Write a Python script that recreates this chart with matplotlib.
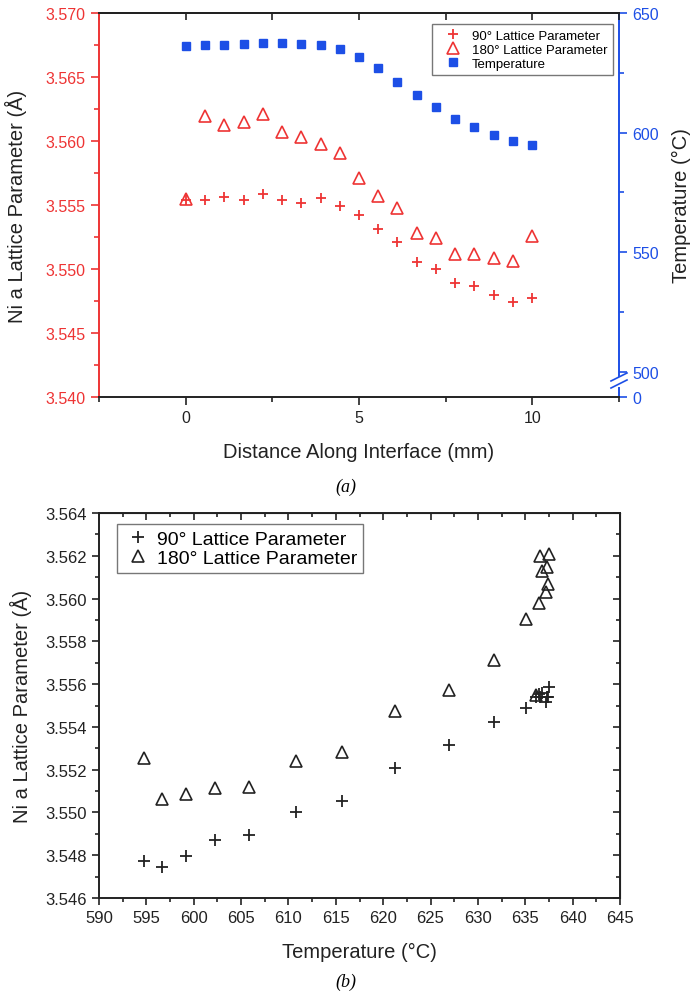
import numpy as np
import matplotlib
matplotlib.use("Agg")
import matplotlib.pyplot as plt
from matplotlib.ticker import MultipleLocator, FixedLocator

plt.rcParams['font.family'] = ['Liberation Sans', 'DejaVu Sans']

# distance along interface (mm)
dist = [0.0, 0.56, 1.11, 1.67, 2.22, 2.78, 3.33, 3.89, 4.44, 5.0,
        5.56, 6.11, 6.67, 7.22, 7.78, 8.33, 8.89, 9.44, 10.0]
# temperature (C)
temp = [636.1, 636.6, 636.8, 637.25, 637.5, 637.4, 637.2, 636.45, 635.1, 631.7,
        627.0, 621.2, 615.65, 610.8, 605.8, 602.2, 599.2, 596.7, 594.7]
# Ni a lattice parameter (A)
lat90 = [3.5554, 3.55539, 3.5556, 3.55541, 3.55586, 3.55541, 3.55516, 3.55552, 3.5549, 3.55424,
         3.55313, 3.55208, 3.55052, 3.5500, 3.54893, 3.5487, 3.54797, 3.54745, 3.54773]
lat180 = [3.5555, 3.56198, 3.56127, 3.56146, 3.56209, 3.56068, 3.56031, 3.55979, 3.55906, 3.55711,
          3.55573, 3.55474, 3.55281, 3.55242, 3.55117, 3.55115, 3.55086, 3.55065, 3.55255]

red = '#ee3434'
blue = '#1d4fe6'
dark = '#222222'

fig = plt.figure(figsize=(6.93, 10.04), dpi=100)

# ---------------- (a) ----------------
ax = fig.add_axes([99/693, 1-398/1004, 520/693, 384/1004])
ax2 = ax.twinx()
ax.set_zorder(ax2.get_zorder() + 1)
ax.patch.set_visible(False)

l1, = ax.plot(dist, lat90, ls='none', marker='+', ms=7.5, mew=1.3, color=red)
l2, = ax.plot(dist, lat180, ls='none', marker='^', ms=8, mew=1.2, mfc='none', mec=red)
l3, = ax2.plot(dist, temp, ls='none', marker='s', ms=5.5, color=blue)

ax.set_xlim(-2.5, 12.5)
ax.set_ylim(3.540, 3.570)
ax.xaxis.set_major_locator(MultipleLocator(5))
ax.xaxis.set_minor_locator(MultipleLocator(2.5))
ax.yaxis.set_major_locator(MultipleLocator(0.005))
ax.yaxis.set_minor_locator(MultipleLocator(0.0025))
ax.yaxis.set_major_formatter(matplotlib.ticker.FormatStrFormatter('%.3f'))
ax.tick_params(axis='x', which='major', direction='out', length=6, width=1.2, labelsize=11.5, colors=dark)
ax.tick_params(axis='x', which='minor', direction='out', length=3.5, width=1.2, colors=dark)
ax.tick_params(axis='y', which='major', direction='out', length=6, width=1.2, labelsize=11.5, colors=red)
ax.tick_params(axis='y', which='minor', direction='out', length=3.5, width=1.2, colors=red)
for s in ['top', 'bottom']:
    ax.spines[s].set_color(dark)
    ax.spines[s].set_linewidth(1.4)
ax.spines['left'].set_color(red)
ax.spines['left'].set_linewidth(1.4)
ax.spines['right'].set_visible(False)

top = ax.secondary_xaxis('top')
top.xaxis.set_major_locator(MultipleLocator(5))
top.xaxis.set_minor_locator(MultipleLocator(2.5))
top.tick_params(which='both', direction='in', length=5, width=1.2, labeltop=False, colors=dark)
top.spines['top'].set_linewidth(1.4)
top.spines['top'].set_color(dark)

ax.set_xlabel('Distance Along Interface (mm)', fontsize=14.5, color=dark, labelpad=12)
ax.set_ylabel('Ni a Lattice Parameter (Å)', fontsize=14.5, color=dark)
ax.yaxis.set_label_coords(-0.138, 0.5)

# right axis with a break between 0 and 500
tlow = 489.55
ax2.set_ylim(tlow, 650)
ax2.yaxis.set_major_locator(FixedLocator([tlow, 500, 550, 600, 650]))
ax2.yaxis.set_major_formatter(matplotlib.ticker.FixedFormatter(['0', '500', '550', '600', '650']))
ax2.yaxis.set_minor_locator(FixedLocator([525, 575, 625]))
ax2.tick_params(axis='y', which='major', direction='out', length=6, width=1.2, labelsize=11.5, colors=blue)
ax2.tick_params(axis='y', which='minor', direction='out', length=3.5, width=1.2, colors=blue)
for s in ['top', 'bottom', 'left']:
    ax2.spines[s].set_visible(False)
ax2.spines['right'].set_color(blue)
ax2.spines['right'].set_linewidth(1.4)
ax2.spines['right'].set_bounds(498.3, 650)
ax2.plot([1, 1], [0, 0.0234], transform=ax2.transAxes, color=blue, lw=1.4, clip_on=False)
ax2.plot([0.9846, 1.0154], [0.0417, 0.0625], transform=ax2.transAxes, color=blue, lw=1.2, clip_on=False)
ax2.plot([0.9846, 1.0154], [0.0234, 0.0443], transform=ax2.transAxes, color=blue, lw=1.2, clip_on=False)
ax2.set_ylabel('Temperature (°C)', fontsize=14.5, color=dark)
ax2.yaxis.set_label_coords(1.102, 0.5)

leg = ax.legend([l1, l2, l3], ['90° Lattice Parameter', '180° Lattice Parameter', 'Temperature'],
                loc='upper right', bbox_to_anchor=(0.988, 0.971), borderaxespad=0,
                fontsize=9.5, fancybox=False, handlelength=2.4, handletextpad=0.25,
                labelspacing=0.15, borderpad=0.4, framealpha=1)
leg.get_frame().set_edgecolor('#777777')
leg.get_frame().set_linewidth(1.0)

fig.text(346/693, 1-487/1004, '(a)', ha='center', va='center', fontsize=13,
         family='Liberation Serif', style='italic')

# ---------------- (b) ----------------
bx = fig.add_axes([99/693, 1-899/1004, 521/693, 385/1004])
b1, = bx.plot(temp, lat90, ls='none', marker='+', ms=8, mew=1.3, color=dark)
b2, = bx.plot(temp, lat180, ls='none', marker='^', ms=8.5, mew=1.2, mfc='none', mec=dark)
bx.set_xlim(590, 645)
bx.set_ylim(3.546, 3.564)
bx.xaxis.set_major_locator(MultipleLocator(5))
bx.xaxis.set_minor_locator(MultipleLocator(2.5))
bx.yaxis.set_major_locator(MultipleLocator(0.002))
bx.yaxis.set_minor_locator(MultipleLocator(0.001))
bx.yaxis.set_major_formatter(matplotlib.ticker.FormatStrFormatter('%.3f'))
bx.tick_params(which='major', direction='out', length=5, width=1.2, labelsize=12, colors=dark)
bx.tick_params(which='minor', direction='out', length=3, width=1.2, colors=dark)
for s in bx.spines.values():
    s.set_color(dark)
    s.set_linewidth(1.4)
btop = bx.secondary_xaxis('top')
btop.xaxis.set_major_locator(MultipleLocator(5))
btop.xaxis.set_minor_locator(MultipleLocator(2.5))
btop.tick_params(which='major', direction='in', length=5, width=1.2, labeltop=False, colors=dark)
btop.tick_params(which='minor', direction='in', length=3, width=1.2, colors=dark)
bright = bx.secondary_yaxis('right')
bright.yaxis.set_major_locator(MultipleLocator(0.002))
bright.yaxis.set_minor_locator(MultipleLocator(0.001))
bright.tick_params(which='major', direction='in', length=5, width=1.2, labelright=False, colors=dark)
bright.tick_params(which='minor', direction='in', length=3, width=1.2, colors=dark)

bx.set_xlabel('Temperature (°C)', fontsize=14.5, color=dark, labelpad=12)
bx.set_ylabel('Ni a Lattice Parameter (Å)', fontsize=14.5, color=dark)
bx.yaxis.set_label_coords(-0.129, 0.5)

bleg = bx.legend([b1, b2], ['90° Lattice Parameter', '180° Lattice Parameter'],
                 loc='upper left', bbox_to_anchor=(0.0345, 0.971), borderaxespad=0,
                 fontsize=14, fancybox=False, handlelength=1.6, handletextpad=0.15,
                 labelspacing=0.1, borderpad=0.3, framealpha=1)
bleg.get_frame().set_edgecolor('#777777')
bleg.get_frame().set_linewidth(1.0)

fig.text(346/693, 1-982/1004, '(b)', ha='center', va='center', fontsize=13,
         family='Liberation Serif', style='italic')

fig.savefig('out.png', dpi=100)
